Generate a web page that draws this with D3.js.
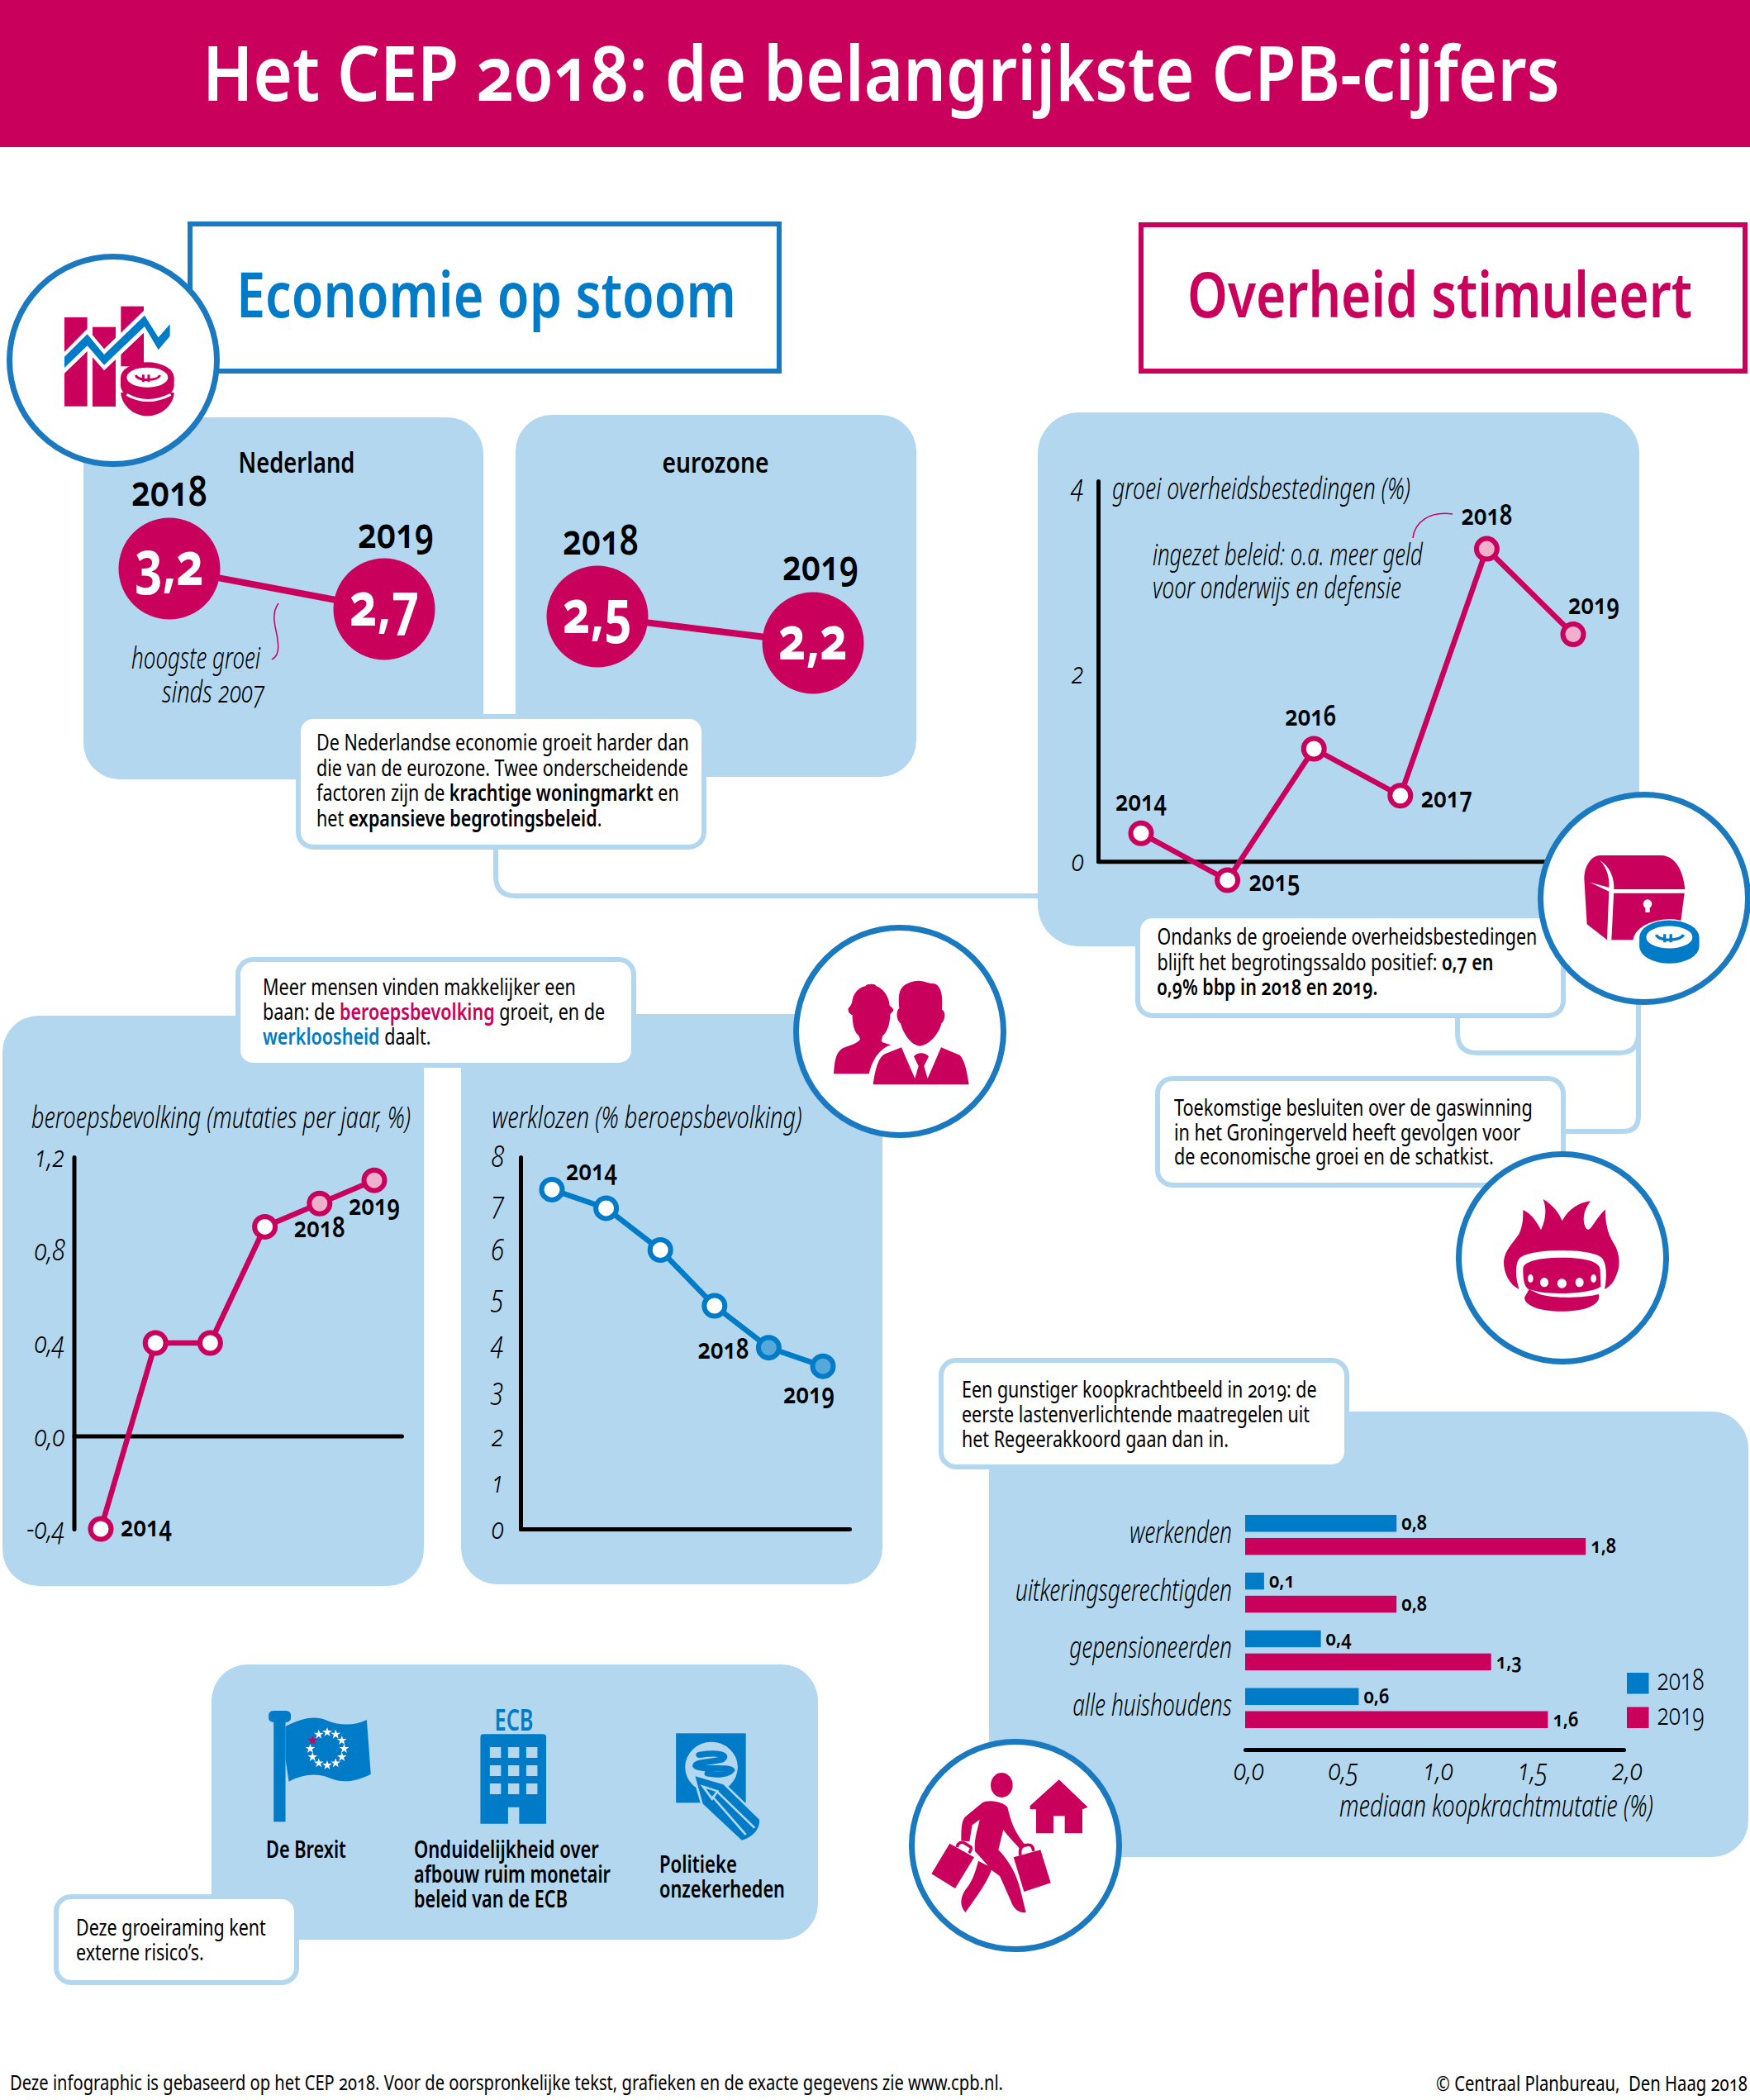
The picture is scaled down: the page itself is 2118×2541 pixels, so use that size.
<!DOCTYPE html>
<html lang="nl">
<head>
<meta charset="utf-8">
<title>Het CEP 2018</title>
<script src="https://cdn.jsdelivr.net/npm/d3@7"></script>
<style>
html,body{margin:0;padding:0;background:#fff;overflow:hidden}
svg{display:block}
text{font-variant-numeric:oldstyle-nums;font-stretch:75%}
</style>
</head>
<body>
<svg id="c" width="2118" height="2541" viewBox="0 0 2118 2541"></svg>
<script>
// ---------- data ----------
const bubbleYears = [2018, 2019];
const groeiNederland = [3.2, 2.7];
const groeiEurozone = [2.5, 2.2];

const overheidYears = [2014, 2015, 2016, 2017, 2018, 2019];
const overheidValues = [0.3, -0.2, 1.2, 0.7, 3.33, 2.42];
const overheidTicks = [0, 2, 4];

const arbeidYears = [2014, 2015, 2016, 2017, 2018, 2019];
const beroepsValues = [-0.4, 0.4, 0.4, 0.9, 1.0, 1.1];
const beroepsTicks = [-0.4, 0, 0.4, 0.8, 1.2];
const werklozenValues = [7.3, 6.9, 6.0, 4.8, 3.9, 3.5];
const werklozenTicks = [0, 1, 2, 3, 4, 5, 6, 7, 8];

const koopGroepen = ['werkenden', 'uitkeringsgerechtigden', 'gepensioneerden', 'alle huishoudens'];
const koop2018 = [0.8, 0.1, 0.4, 0.6];
const koop2019 = [1.8, 0.8, 1.3, 1.6];
const koopSeries = ['2018', '2019'];
const koopTicks = [0, 0.5, 1, 1.5, 2];

const titleText = 'Het CEP 2018: de belangrijkste CPB-cijfers';
const calloutEconomie = [
  [['De Nederlandse economie groeit harder dan']],
  [['die van de eurozone. Twee onderscheidende']],
  [['factoren zijn de '], ['krachtige woningmarkt', 'b'], [' en']],
  [['het '], ['expansieve begrotingsbeleid', 'b'], ['.']]
];
const calloutSaldo = [
  [['Ondanks de groeiende overheidsbestedingen']],
  [['blijft het begrotingssaldo positief: '], ['0,7 en', 'b']],
  [['0,9% bbp in 2018 en 2019.', 'b']]
];
const calloutGas = [
  [['Toekomstige besluiten over de gaswinning']],
  [['in het Groningerveld heeft gevolgen voor']],
  [['de economische groei en de schatkist.']]
];
const calloutArbeid = [
  [['Meer mensen vinden makkelijker een']],
  [['baan: de '], ['beroepsbevolking', 'm'], [' groeit, en de']],
  [['werkloosheid', 'c'], [' daalt.']]
];
const calloutKoop = [
  [['Een gunstiger koopkrachtbeeld in 2019: de']],
  [['eerste lastenverlichtende maatregelen uit']],
  [['het Regeerakkoord gaan dan in.']]
];
const calloutRisico = [
  [['Deze groeiraming kent']],
  [['externe risico\u2019s.']]
];

// ---------- styling ----------
const MAG = '#ca005d', BLUE = '#007bc7', RING = '#1a79bf', PANEL = '#b2d7ef', PINK = '#eeb0cc', LBLUE = '#55a8da';
const FONT = "'Noto Sans', sans-serif";
const comma = v => String(v).replace('.', ',');
const comma1 = v => v.toFixed(1).replace('.', ',');

const svg = d3.select('#c');
const layerPanels = svg.append('g');
const layerLines = svg.append('g');
const layerBoxes = svg.append('g');
const layerCharts = svg.append('g');
const layerRings = svg.append('g');

function txt(p, o) {
  const t = p.append('text')
    .attr('font-family', FONT)
    .attr('font-size', o.size)
    .attr('font-weight', o.weight || 400)
    .attr('font-style', o.italic ? 'italic' : 'normal')
    .attr('fill', o.fill || '#000')
    .attr('text-anchor', o.anchor || 'start');
  if (o.runs) {
    o.runs.forEach(r => {
      const s = t.append('tspan').text(r[0]);
      if (r[1]) s.attr('font-weight', 600);
      if (r[1] === 'm') s.attr('fill', MAG);
      if (r[1] === 'c') s.attr('fill', BLUE);
    });
  } else t.text(o.text);
  const nat = t.node().getComputedTextLength();
  const sx = o.w ? o.w / nat : (o.sx || 1);
  t.attr('transform', `translate(${o.x},${o.y}) scale(${sx},1)`);
  return sx;
}
// ratio that fits a sample string to the width it has in the reference
function fitRatio(sample, target, size, weight, italic) {
  const t = svg.append('text').attr('font-family', FONT).attr('font-size', size).attr('font-weight', weight)
    .attr('font-style', italic ? 'italic' : 'normal').text(sample);
  const r = target / t.node().getComputedTextLength();
  t.remove();
  return r;
}
const panel = (x0, y0, x1, y1, r = 44) => layerPanels.append('rect')
  .attr('x', x0).attr('y', y0).attr('width', x1 - x0).attr('height', y1 - y0).attr('rx', r).attr('fill', PANEL);
function callout(x0, y0, x1, y1, lines, tx, by, dy, w0, size = 27) {
  layerBoxes.append('rect').attr('x', x0 + 3).attr('y', y0 + 3).attr('width', x1 - x0 - 6).attr('height', y1 - y0 - 6)
    .attr('rx', 18).attr('fill', '#fff').attr('stroke', PANEL).attr('stroke-width', 6);
  let sx;
  lines.forEach((runs, i) => {
    const o = { x: tx, y: by + i * dy, size, runs };
    if (i === 0) o.w = w0; else o.sx = sx;
    const s = txt(layerBoxes, o);
    if (i === 0) sx = s;
  });
}
const connector = d => layerLines.append('path').attr('d', d).attr('fill', 'none').attr('stroke', PANEL).attr('stroke-width', 6);
const ring = (cx, cy, r) => layerRings.append('circle').attr('cx', cx).attr('cy', cy).attr('r', r - 3.5)
  .attr('fill', '#fff').attr('stroke', RING).attr('stroke-width', 7);
const icon = (x, y, sx = 1 / 3, sy = sx) => layerRings.append('g').attr('transform', `translate(${x},${y}) scale(${sx},${sy})`);
const fillPath = (g, d, fill) => g.append('path').attr('d', d).attr('fill', fill);

function coin(g, cx, cy, k, col, halo) {
  const c = g.append('g').attr('transform', `translate(${cx},${cy}) scale(${k})`);
  if (halo) c.append('ellipse').attr('rx', 118).attr('ry', 72).attr('cy', 14).attr('fill', '#fff');
  fillPath(c, 'M-97,0 A97,55 0 0 1 97,0 L97,30 A97,55 0 0 1 -97,30 Z', col);
  c.append('ellipse').attr('rx', 75).attr('ry', 36).attr('fill', '#fff');
  c.append('path').attr('d', 'M-42,-8 C-36,14 36,14 46,-8 M-15,-10 V17 M5,-10 V17')
    .attr('fill', 'none').attr('stroke', col).attr('stroke-width', 9);
}

// ---------- header ----------
svg.insert('rect', ':first-child').attr('width', 2118).attr('height', 178).attr('fill', MAG);
txt(svg, { x: 245, y: 122, size: 92, weight: 600, fill: '#fff', text: titleText, w: 1643 });

// section boxes
[[230, 271, 943, 449, RING], [1381, 272, 2112, 449, MAG]].forEach(b =>
  layerLines.append('rect').attr('x', b[0]).attr('y', b[1]).attr('width', b[2] - b[0]).attr('height', b[3] - b[1])
    .attr('fill', '#fff').attr('stroke', b[4]).attr('stroke-width', 6));
txt(layerBoxes, { x: 286, y: 384, size: 75, weight: 600, fill: BLUE, text: 'Economie op stoom', w: 605 });
txt(layerBoxes, { x: 1437, y: 384, size: 75, weight: 600, fill: MAG, text: 'Overheid stimuleert', w: 611 });

// ---------- panels ----------
panel(101, 505, 585, 943);
panel(624, 502, 1109, 940);
panel(1256, 499, 1984, 1145, 50);
panel(3, 1229, 513, 1919);
panel(558, 1227, 1068, 1917);
panel(1197, 1708, 2116, 2247);
panel(256, 2014, 990, 2347);

// ---------- bubbles ----------
function bubbles(values, xr, yr, title, titleX, titleW, lab) {
  const x = d3.scalePoint().domain(bubbleYears).range(xr);
  const y = d3.scaleLinear().domain([d3.min(values), d3.max(values)]).range([yr[1], yr[0]]);
  const g = layerCharts.append('g');
  g.append('path').datum(values)
    .attr('d', d3.line().x((d, i) => x(bubbleYears[i])).y(d => y(d)))
    .attr('stroke', MAG).attr('stroke-width', 8).attr('fill', 'none');
  g.selectAll('circle').data(values).join('circle')
    .attr('cx', (d, i) => x(bubbleYears[i])).attr('cy', d => y(d)).attr('r', 61.5).attr('fill', MAG);
  values.forEach((v, i) => {
    const px = x(bubbleYears[i]), py = y(v);
    txt(g, { x: px, y: py + 20, size: 74, weight: 700, fill: '#fff', anchor: 'middle', text: comma(v), w: 84 });
    txt(g, { x: px + lab[i][0], y: py + lab[i][1], size: 51, weight: 600, anchor: 'middle', text: bubbleYears[i], w: 92 });
  });
  txt(g, { x: titleX, y: 572, size: 34, weight: 600, anchor: 'middle', text: title, w: titleW });
}
bubbles(groeiNederland, [205, 465], [688, 737], 'Nederland', 359, 141, [[0, -76], [14, -74]]);
bubbles(groeiEurozone, [723, 984], [746, 778], 'eurozone', 866, 129, [[4, -75], [9, -76]]);
txt(layerCharts, { x: 315, y: 809, size: 36, weight: 300, italic: true, anchor: 'end', text: 'hoogste groei', w: 156 });
txt(layerCharts, { x: 320, y: 850, size: 36, weight: 300, italic: true, anchor: 'end', text: 'sinds 2007', w: 124 });
layerCharts.append('path').attr('d', 'M337,730 C326,745 336,765 336,775 C338,787 335,795 329,798')
  .attr('fill', 'none').attr('stroke', MAG).attr('stroke-width', 1.5);

// ---------- line charts ----------
const tickRatio = fitRatio('0,8', 37, 36, 300, true);
function styleAxis(g) {
  g.attr('font-family', FONT).attr('font-size', 36).attr('font-weight', 300).attr('font-style', 'italic');
  g.select('.domain').attr('stroke', '#000').attr('stroke-width', 5).attr('stroke-linecap', 'round');
  g.selectAll('.tick line').remove();
  g.selectAll('.tick text').style('font-variant-numeric', 'oldstyle-nums').attr('transform', `scale(${tickRatio},1)`);
}
function lineChart(values, years, x, y, color, light, hi, labels) {
  const g = layerCharts.append('g');
  g.append('path').datum(values)
    .attr('d', d3.line().x((d, i) => x(years[i])).y(d => y(d)))
    .attr('fill', 'none').attr('stroke', color).attr('stroke-width', 6.5);
  g.selectAll('circle').data(values).join('circle')
    .attr('cx', (d, i) => x(years[i])).attr('cy', d => y(d)).attr('r', 12.5)
    .attr('fill', (d, i) => hi.includes(years[i]) ? light : '#fff')
    .attr('stroke', color).attr('stroke-width', 6);
  labels.forEach(l => {
    const i = years.indexOf(l[0]);
    txt(g, { x: x(years[i]) + l[2], y: y(values[i]) + l[3], size: 34, weight: 600, anchor: l[1], text: l[0], w: 62 });
  });
}
const axes = layerCharts.append('g');

// overheid
{
  const x = d3.scalePoint().domain(overheidYears).range([1381, 1904]);
  const y = d3.scaleLinear().domain([-0.2, 4]).range([1065, 588]);
  axes.append('g').attr('transform', 'translate(1329,0)')
    .call(d3.axisLeft(y.copy().domain([0, 4.05]).range([1042, 582])).tickValues(overheidTicks).tickSize(0).tickSizeOuter(0).tickPadding(17 / tickRatio).tickFormat(d => d))
    .call(styleAxis);
  axes.append('g').attr('transform', `translate(0,${y(0)})`)
    .call(d3.axisBottom(d3.scaleLinear().range([1329, 1900])).tickValues([]).tickSizeOuter(0))
    .call(styleAxis);
  lineChart(overheidValues, overheidYears, x, y, MAG, PINK, [2018, 2019], [
    [2014, 'middle', 0, -27], [2015, 'start', 26, 13], [2016, 'middle', -4, -28],
    [2017, 'start', 25, 14], [2018, 'middle', 0, -29], [2019, 'middle', 25, -24]]);
  txt(layerCharts, { x: 1346, y: 604, size: 36, weight: 300, italic: true, text: 'groei overheidsbestedingen (%)', w: 361 });
  txt(layerCharts, { x: 1395, y: 684, size: 36, weight: 300, italic: true, text: 'ingezet beleid: o.a. meer geld', w: 327 });
  txt(layerCharts, { x: 1395, y: 724, size: 36, weight: 300, italic: true, text: 'voor onderwijs en defensie', w: 301 });
  layerCharts.append('path').attr('d', 'M1710,651 C1712,632 1730,618 1758,622').attr('fill', 'none').attr('stroke', MAG).attr('stroke-width', 1.5);
}
// beroepsbevolking
{
  const x = d3.scalePoint().domain(arbeidYears).range([122, 453]);
  const y = d3.scaleLinear().domain([-0.4, 1.2]).range([1850, 1400]);
  axes.append('g').attr('transform', 'translate(89.5,0)')
    .call(d3.axisLeft(y).tickValues(beroepsTicks).tickSize(0).tickSizeOuter(0).tickPadding(11 / tickRatio).tickFormat(comma1))
    .call(styleAxis);
  axes.append('g').attr('transform', `translate(0,${y(0)})`)
    .call(d3.axisBottom(d3.scaleLinear().range([89.5, 486])).tickValues([]).tickSizeOuter(0))
    .call(styleAxis);
  lineChart(beroepsValues, arbeidYears, x, y, MAG, PINK, [2018, 2019], [
    [2014, 'start', 24, 9], [2018, 'middle', 0, 41], [2019, 'middle', 0, 42]]);
  txt(layerCharts, { x: 38, y: 1365, size: 36, weight: 300, italic: true, text: 'beroepsbevolking (mutaties per jaar, %)', w: 459 });
}
// werklozen
{
  const x = d3.scalePoint().domain(arbeidYears).range([668, 996]);
  const y = d3.scaleLinear().domain([0, 8]).range([1850, 1400]);
  axes.append('g').attr('transform', 'translate(630,0)')
    .call(d3.axisLeft(y).tickValues(werklozenTicks).tickSize(0).tickSizeOuter(0).tickPadding(20 / tickRatio).tickFormat(d => d))
    .call(styleAxis);
  axes.append('g').attr('transform', `translate(0,${y(0)})`)
    .call(d3.axisBottom(d3.scaleLinear().range([630, 1028])).tickValues([]).tickSizeOuter(0))
    .call(styleAxis);
  lineChart(werklozenValues, arbeidYears, x, y, BLUE, LBLUE, [2018, 2019], [
    [2014, 'start', 17, -11], [2018, 'middle', -55, 13], [2019, 'middle', -17, 45]]);
  txt(layerCharts, { x: 595.5, y: 1365, size: 36, weight: 300, italic: true, text: 'werklozen (% beroepsbevolking)', w: 375 });
}
// koopkracht bars
{
  const x = d3.scaleLinear().domain([0, 2]).range([1507, 1965]);
  const y0 = d3.scaleBand().domain(koopGroepen).range([1833, 2091]).paddingInner(0.306);
  const y1 = d3.scaleBand().domain(koopSeries).range([0, y0.bandwidth()]).paddingInner(0.268);
  const colour = d3.scaleOrdinal().domain(koopSeries).range([BLUE, MAG]);
  const g = layerCharts.append('g');
  const valueRatio = fitRatio('0,8', 31, 25, 600, false);
  const groupRatio = fitRatio('uitkeringsgerechtigden', 262, 37, 300, true);
  koopGroepen.forEach((grp, i) => {
    const row = g.append('g').attr('transform', `translate(0,${y0(grp)})`);
    [koop2018[i], koop2019[i]].forEach((v, j) => {
      const s = koopSeries[j];
      row.append('rect').attr('x', x(0)).attr('y', y1(s)).attr('width', x(v) - x(0)).attr('height', y1.bandwidth()).attr('fill', colour(s));
      txt(row, { x: x(v) + 6, y: y1(s) + y1.bandwidth() / 2 + 8, size: 25, weight: 600, text: comma(v), sx: valueRatio });
    });
    txt(g, { x: 1491, y: y0(grp) + y0.bandwidth() / 2 + 9.5, size: 37, weight: 300, italic: true, anchor: 'end', text: grp, sx: groupRatio });
  });
  axes.append('g').attr('transform', 'translate(0,2117)')
    .call(d3.axisBottom(x).tickValues(koopTicks).tickSize(0).tickSizeOuter(0).tickPadding(11).tickFormat(comma1))
    .call(styleAxis)
    .call(a => a.selectAll('.tick text').attr('dx', 4 / tickRatio));
  txt(layerCharts, { x: 1621, y: 2198, size: 36, weight: 300, italic: true, text: 'mediaan koopkrachtmutatie (%)', w: 380 });
  koopSeries.forEach((s, i) => {
    layerCharts.append('rect').attr('x', 1969).attr('width', 26.5).attr('y', 2024 + i * 41.5).attr('height', 25.5).attr('fill', colour(s));
    txt(layerCharts, { x: 2005.5, y: 2045 + i * 41.5, size: 36, weight: 300, text: s, w: 57 });
  });
}

// ---------- connectors and callouts ----------
connector('M600,1020 V1060 Q600,1084 624,1084 H1260');
connector('M1764,1225 V1250 Q1764,1274 1788,1274 H1960 Q1983,1274 1983,1250 V1200');
connector('M1983,1200 V1350 Q1983,1369 1964,1369 H1890');
callout(358, 864, 855, 1028, calloutEconomie, 383, 908, 30.5, 451);
callout(1374, 1105, 1895, 1232, calloutSaldo, 1400.5, 1143, 30.5, 460);
callout(1398, 1302, 1895, 1437, calloutGas, 1421, 1350, 29.5, 434);
callout(285, 1158, 770, 1292, calloutArbeid, 318, 1204, 30, 379);
callout(1136, 1643, 1633, 1778, calloutKoop, 1164, 1690.6, 30, 430);
callout(65, 2292, 362, 2402, calloutRisico, 92, 2342, 30, 230);

// ---------- risks ----------
[['De Brexit', 322, 2248, 97], ['Onduidelijkheid over', 501, 2248, 224], ['afbouw ruim monetair', 501, 2278, 238],
 ['beleid van de ECB', 501, 2308, 186], ['Politieke', 798, 2266, 94], ['onzekerheden', 798, 2296, 152]]
  .forEach(t => txt(layerCharts, { x: t[1], y: t[2], size: 28, weight: 600, text: t[0], w: t[3] }));
txt(layerCharts, { x: 622, y: 2094, size: 36, weight: 600, fill: BLUE, anchor: 'middle', text: 'ECB', w: 47 });

// footer
txt(svg, { x: 12, y: 2529, size: 25, text: 'Deze infographic is gebaseerd op het CEP 2018. Voor de oorspronkelijke tekst, grafieken en de exacte gegevens zie www.cpb.nl.', w: 1203 });
txt(svg, { x: 1738, y: 2530, size: 25, text: '\u00a9 Centraal Planbureau,\u00a0 Den Haag 2018', w: 377 });

// ---------- rings and icons ----------
ring(137, 436, 129); ring(1990, 1087, 129); ring(1891, 1522, 129); ring(1089, 1248, 129); ring(1229, 2233, 129);

// economie icon
{
  const g = icon(60, 360);
  [[54, 72, 83, 323], [156, 107, 84, 288], [259, 32, 83, 240]].forEach(r =>
    g.append('rect').attr('x', r[0]).attr('y', r[1]).attr('width', r[2]).attr('height', r[3]).attr('fill', MAG));
  fillPath(g, 'M54,197 L137,113 L198,187 L345,45 L395,125 L437,77 V160 L395,210 L345,125 L198,265 L137,195 L54,275 Z', '#fff');
  fillPath(g, 'M54,215 L137,133 L198,207 L345,65 L395,145 L437,97 V140 L395,190 L345,105 L198,245 L137,175 L54,255 Z', BLUE);
  fillPath(g, 'M240,250 H345 V395 H240 Z', '#fff');
  fillPath(g, 'M156,260 L198,282 L240,240 V395 H156 Z', MAG);
  fillPath(g, 'M259,245 L342,170 V245 Z', MAG);
  fillPath(g, 'M259,345 C259,385 300,430 355,430 C410,430 452,385 452,345 Z', MAG);
  coin(g, 355, 290, 1, MAG, false);
  g.append('path').attr('d', 'M280,352 Q355,395 440,352').attr('fill', 'none').attr('stroke', '#fff').attr('stroke-width', 9);
}
// chest icon
{
  const g = icon(1900, 1020);
  fillPath(g, 'M52,130 C52,80 80,45 110,45 H330 C385,45 412,105 418,168 L402,290 L230,352 H135 L62,295 Z', MAG);
  g.append('path').attr('d', 'M150,175 H420').attr('stroke', '#fff').attr('stroke-width', 14);
  fillPath(g, 'M108,62 C145,85 162,125 160,170 L151,352 H135 L142,170 C145,125 135,90 108,62 Z', '#fff');
  fillPath(g, 'M73,143 L155,165 V182 Z', '#fff');
  g.append('circle').attr('cx', 282).attr('cy', 221).attr('r', 16).attr('fill', '#fff');
  g.append('rect').attr('x', 274).attr('y', 222).attr('width', 16).attr('height', 30).attr('fill', '#fff');
  coin(g, 361, 342, 1.12, BLUE, true);
}
// gas icon
{
  const g = icon(1800, 1450);
  fillPath(g, 'M130,42 C160,55 180,85 195,115 C215,70 215,35 203,3 C240,25 262,55 272,82 C295,40 330,15 375,10 C345,50 345,90 360,110 C375,125 385,85 428,40 C430,90 435,125 460,165 C480,195 485,245 470,275 C460,305 445,320 425,330 L118,330 C80,315 60,270 60,230 C62,190 95,160 115,130 C130,100 130,70 130,42 Z', MAG);
  fillPath(g, 'M118,335 C100,290 100,230 120,215 C160,180 380,180 415,215 C435,235 435,290 425,335 Z', '#fff');
  fillPath(g, 'M130,255 C130,235 170,215 270,215 C370,215 410,235 410,260 L412,320 C380,345 250,350 190,340 L150,330 C135,320 130,300 130,255 Z', MAG);
  [[157, 291, 10, 15], [207, 305, 15, 17], [271, 309, 17, 17], [335, 305, 15, 17], [386, 291, 10, 15]].forEach(h =>
    g.append('ellipse').attr('cx', h[0]).attr('cy', h[1]).attr('rx', h[2]).attr('ry', h[3]).attr('fill', '#fff'));
  fillPath(g, 'M152,330 L190,348 C250,365 350,362 405,348 C410,370 395,385 370,395 C320,415 220,415 170,395 C150,387 135,375 135,360 Z', MAG);
}
// people icon
{
  const g = icon(1000, 1170);
  fillPath(g, 'M27,388 C30,340 35,310 60,295 C85,285 120,275 123,262 L118,250 C100,235 95,205 95,175 C85,170 78,165 80,150 C85,145 92,140 95,120 C100,90 125,72 142,70 C145,60 180,60 182,70 C210,80 228,110 230,140 C240,148 245,152 243,160 L232,172 C232,205 222,235 205,250 L200,268 C205,278 220,278 235,283 C200,295 170,325 155,388 Z', MAG);
  fillPath(g, 'M265,150 C260,90 265,65 320,52 C345,45 370,60 385,60 C415,60 425,100 420,155 C435,160 432,195 418,205 C410,245 370,285 340,287 C310,285 280,245 270,205 C255,195 252,160 265,150 Z', MAG);
  fillPath(g, 'M170,427 C178,370 190,325 215,315 L273,292 L322,405 L335,360 L318,325 C330,308 360,310 372,325 L355,360 L368,405 L417,292 L485,320 C505,340 512,390 518,427 Z', MAG);
}
// shopper icon
{
  const g = icon(1120, 2140);
  g.append('ellipse').attr('cx', 277).attr('cy', 60).attr('rx', 40).attr('ry', 45).attr('fill', MAG);
  fillPath(g, 'M205,125 C230,110 280,120 298,140 C310,185 315,215 360,275 L342,290 C320,265 295,240 283,222 L265,295 C300,330 330,380 345,440 L365,522 C340,525 320,510 310,480 L270,390 L240,368 C225,410 190,460 145,522 C125,500 125,470 145,440 C170,410 180,380 192,335 L228,353 L180,300 C175,260 190,220 197,185 L170,205 L160,265 L130,262 C130,210 132,190 145,175 Z', MAG);
  fillPath(g, 'M88,272 L177,322 L108,435 L22,382 Z', MAG);
  fillPath(g, 'M320,322 L418,295 L455,415 L358,447 Z', MAG);
  g.append('path').attr('d', 'M115,285 C118,265 135,265 145,272 L165,285 C168,292 165,298 158,306 M345,315 C340,290 350,278 370,277 C385,275 392,285 392,300')
    .attr('fill', 'none').attr('stroke', MAG).attr('stroke-width', 11);
  fillPath(g, 'M485,40 L590,140 L570,148 V235 H506 V172 H465 V235 H402 V148 H380 V135 Z', MAG);
}
// flag / ECB / pencil icons on the risk panel
{
  const g = icon(310, 2060, 1 / 2.45, 1 / 3);
  g.append('rect').attr('x', 52).attr('y', 50).attr('width', 35).attr('height', 383).attr('fill', BLUE);
  g.append('rect').attr('x', 37).attr('y', 30).attr('width', 66).attr('height', 42).attr('rx', 15).attr('fill', BLUE);
  fillPath(g, 'M87,87 C130,60 170,45 210,65 C250,85 290,85 328,63 L340,260 C300,285 260,295 220,275 C180,255 140,260 97,287 L87,205 Z', BLUE);
  const star = d3.symbol(d3.symbolStar, 42)();
  d3.range(12).forEach(i => {
    const a = i * Math.PI / 6;
    svg.append('path').attr('d', star)
      .attr('transform', `translate(${396 + 20.5 * Math.sin(a)},${2116 - 20 * Math.cos(a)})`)
      .attr('fill', i === 10 ? MAG : '#fff');
  });
  const e = icon(310, 2060, 1 / 2.45, 1 / 3);
  fillPath(e, 'M665,440 V125 Q665,115 675,115 H850 Q860,115 860,125 V440 H780 V380 H747 V440 Z', BLUE);
  [693, 747, 801].forEach(wx => [162, 228, 294].forEach(wy =>
    e.append('rect').attr('x', wx).attr('y', wy).attr('width', 33).attr('height', 39).attr('fill', PANEL)));
  e.append('rect').attr('x', 1245).attr('y', 112).attr('width', 207).attr('height', 252).attr('fill', BLUE);
  e.append('ellipse').attr('cx', 1350).attr('cy', 235).attr('rx', 78).attr('ry', 92).attr('fill', PANEL);
  e.append('path').attr('d', 'M1315,190 C1370,180 1400,190 1380,207 C1350,217 1305,215 1305,230 C1315,247 1400,232 1408,245 C1400,260 1370,265 1340,258')
    .attr('fill', 'none').attr('stroke', BLUE).attr('stroke-width', 22).attr('stroke-linecap', 'round');
  fillPath(e, 'M1302,268 L1385,298 L1492,425 C1495,460 1470,490 1440,500 L1325,368 Z', BLUE).attr('stroke', PANEL).attr('stroke-width', 14).attr('paint-order', 'stroke');
  e.append('path').attr('d', 'M1325,305 L1368,322 L1352,350 Z M1368,325 L1478,455 M1352,340 L1452,480')
    .attr('fill', 'none').attr('stroke', PANEL).attr('stroke-width', 7);
}
</script>
</body>
</html>
